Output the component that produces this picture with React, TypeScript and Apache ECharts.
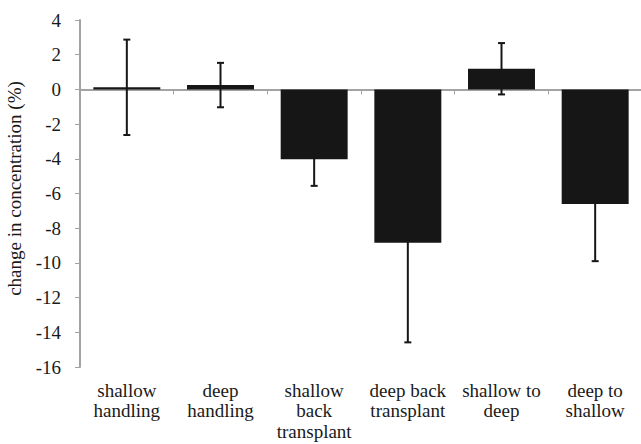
import React, { useEffect, useRef } from "react";
import * as echarts from "echarts";

// Treatment groups (line breaks as printed under the axis)
const categories = [
  "shallow\nhandling",
  "deep\nhandling",
  "shallow\nback\ntransplant",
  "deep back\ntransplant",
  "shallow to\ndeep",
  "deep to\nshallow",
];

// Mean change in concentration (%) and its error half-width
const meanChange = [0.12, 0.25, -4.03, -8.84, 1.19, -6.61];
const errorHalf = [2.75, 1.28, 1.53, 5.74, 1.48, 3.29];

// Value axis ticks
const yMin = -16;
const yMax = 4;
const yStep = 2;

const FONT = "Liberation Serif";

export default function App() {
  const ref = useRef<HTMLDivElement>(null);

  useEffect(() => {
    if (!ref.current) return;
    const chart = echarts.init(ref.current, undefined, { renderer: "svg" });

    const errorData = meanChange.map((m, i) => [i, m - errorHalf[i], m + errorHalf[i]]);

    chart.setOption({
      animation: false,
      backgroundColor: "#ffffff",
      textStyle: { fontFamily: FONT },
      grid: {
        left: 80,
        top: 20,
        width: 562,
        bottom: 77,
        containLabel: false,
        outerBoundsMode: "none",
      },
      xAxis: [
        {
          type: "category",
          data: categories,
          position: "bottom",
          axisLine: { show: false, onZero: false },
          axisTick: { show: false },
          axisLabel: {
            margin: 13,
            fontFamily: FONT,
            fontSize: 19,
            lineHeight: 20.5,
            color: "#1a1a1a",
            interval: 0,
          },
        },
        {
          type: "category",
          data: categories,
          position: "bottom",
          axisLine: { show: true, onZero: true, lineStyle: { color: "#a3a3a3", width: 2 } },
          axisTick: { show: true, length: 5, lineStyle: { color: "#a3a3a3", width: 1 } },
          axisLabel: { show: false },
        },
      ],
      yAxis: {
        type: "value",
        min: yMin,
        max: yMax,
        interval: yStep,
        name: "change in concentration (%)",
        nameLocation: "middle",
        nameRotate: 90,
        nameGap: 56,
        nameTextStyle: {
          fontFamily: FONT,
          fontSize: 19,
          color: "#1a1a1a",
          padding: [0, 0, 0, 10],
        },
        axisLine: { show: true, lineStyle: { color: "#a3a3a3", width: 2 } },
        axisTick: { show: true, length: 5, lineStyle: { color: "#a3a3a3", width: 1 } },
        splitLine: { show: false },
        axisLabel: {
          margin: 19,
          fontFamily: FONT,
          fontSize: 19,
          color: "#1a1a1a",
        },
      },
      series: [
        {
          type: "bar",
          xAxisIndex: 0,
          data: meanChange,
          barCategoryGap: "28.5%",
          itemStyle: { color: "#161616" },
        },
        {
          type: "custom",
          xAxisIndex: 0,
          data: errorData,
          z: 5,
          renderItem: (params: any, api: any) => {
            const idx = api.value(0);
            const lo = api.coord([idx, api.value(1)]);
            const hi = api.coord([idx, api.value(2)]);
            const cap = 3.5;
            const style = { stroke: "#161616", lineWidth: 2 };
            return {
              type: "group",
              children: [
                { type: "line", shape: { x1: hi[0], y1: hi[1], x2: lo[0], y2: lo[1] }, style },
                { type: "line", shape: { x1: hi[0] - cap, y1: hi[1], x2: hi[0] + cap, y2: hi[1] }, style },
                { type: "line", shape: { x1: lo[0] - cap, y1: lo[1], x2: lo[0] + cap, y2: lo[1] }, style },
              ],
            };
          },
        },
      ],
    });

    return () => chart.dispose();
  }, []);

  return <div ref={ref} style={{ width: 641, height: 444, position: "absolute", left: 0, top: 0 }} />;
}
